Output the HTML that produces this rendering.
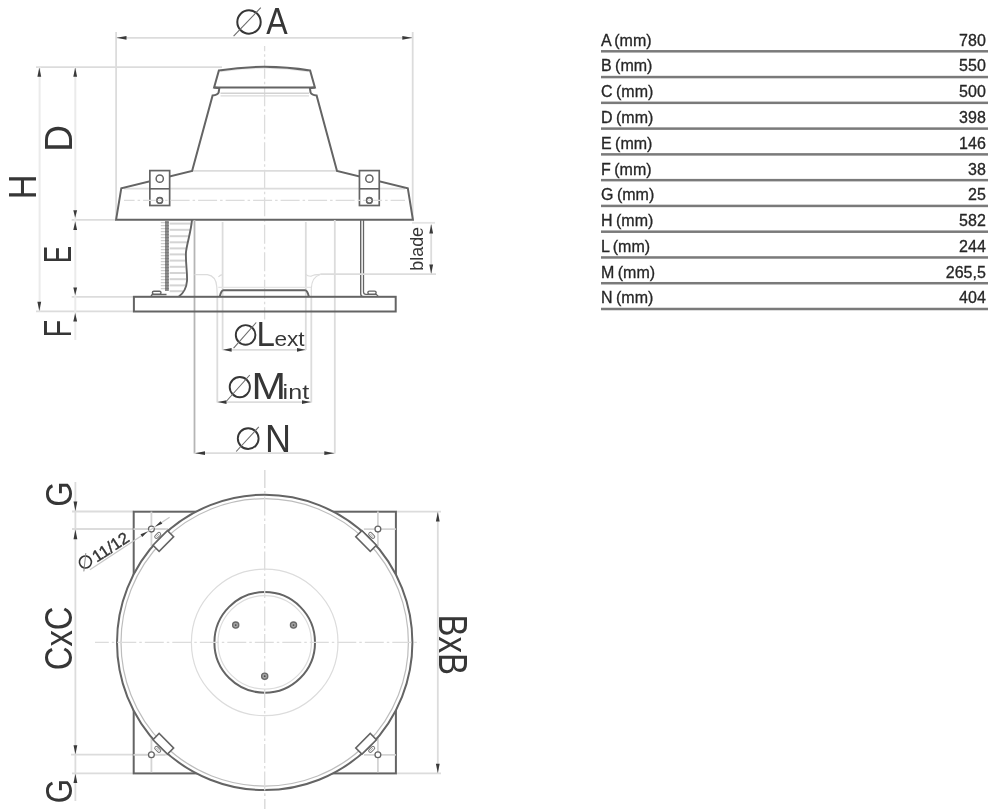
<!DOCTYPE html>
<html><head><meta charset="utf-8"><style>
html,body{margin:0;padding:0;background:#fff;}
svg{display:block;will-change:transform;}
</style></head><body>
<svg width="994" height="809" viewBox="0 0 994 809">
<rect width="994" height="809" fill="#fff"/>
<line x1="116.1" y1="32" x2="116.1" y2="219.7" stroke="#dcdcdc" stroke-width="1.8" />
<line x1="412.7" y1="32" x2="412.7" y2="219.7" stroke="#dcdcdc" stroke-width="1.8" />
<line x1="36" y1="67.2" x2="222" y2="67.2" stroke="#dcdcdc" stroke-width="1.8" />
<line x1="71.7" y1="219.8" x2="116" y2="219.8" stroke="#dcdcdc" stroke-width="1.8" />
<line x1="71.7" y1="296.9" x2="134" y2="296.9" stroke="#dcdcdc" stroke-width="1.8" />
<line x1="36" y1="311.4" x2="134" y2="311.4" stroke="#dcdcdc" stroke-width="1.8" />
<line x1="39.6" y1="67" x2="39.6" y2="311.4" stroke="#ebebeb" stroke-width="2" />
<line x1="75.3" y1="67" x2="75.3" y2="340" stroke="#ebebeb" stroke-width="2" />
<path d="M39.30,67.50 L41.20,76.70 L37.40,76.70 Z" fill="#3a3a3a"/>
<path d="M39.30,311.00 L37.40,301.80 L41.20,301.80 Z" fill="#3a3a3a"/>
<path d="M75.20,67.50 L77.10,76.70 L73.30,76.70 Z" fill="#3a3a3a"/>
<path d="M75.20,217.80 L73.30,210.20 L77.10,210.20 Z" fill="#3a3a3a"/>
<path d="M75.20,221.40 L77.10,230.00 L73.30,230.00 Z" fill="#3a3a3a"/>
<path d="M75.20,295.30 L73.30,287.60 L77.10,287.60 Z" fill="#3a3a3a"/>
<path d="M75.20,313.00 L77.10,321.60 L73.30,321.60 Z" fill="#3a3a3a"/>
<line x1="116.1" y1="37.8" x2="412.7" y2="37.8" stroke="#dcdcdc" stroke-width="1.8" />
<path d="M116.50,37.80 L126.50,35.90 L126.50,39.70 Z" fill="#3a3a3a"/>
<path d="M412.30,37.80 L402.30,39.70 L402.30,35.90 Z" fill="#3a3a3a"/>
<line x1="264.6" y1="46" x2="264.6" y2="319.5" stroke="#dcdcdc" stroke-width="1.3" stroke-dasharray="19,3,2.5,3" stroke-dashoffset="13.7"/>
<path d="M221,71.6 A282.8,282.8 0 0 1 308,71.6" stroke="#e6e6e6" stroke-width="1" fill="none" />
<line x1="220.5" y1="93.3" x2="309" y2="93.3" stroke="#d2d2d2" stroke-width="1.4" />
<line x1="220.5" y1="95.9" x2="309" y2="95.9" stroke="#dadada" stroke-width="1.4" />
<line x1="192.1" y1="170.9" x2="337" y2="170.9" stroke="#dcdcdc" stroke-width="1.8" />
<line x1="124" y1="188.6" x2="405" y2="188.6" stroke="#dcdcdc" stroke-width="1.8" />
<path d="M218.9,70.5 A282.8,282.8 0 0 1 310.1,70.5 L314.9,87.4 L214.1,87.4 Z" stroke="#646464" stroke-width="2.0" fill="none" />
<path d="M214.1,87.4 L219.3,88.2 L218.6,92.6 Q217.6,94.9 212.6,95.4 L192.1,170.9 L121.3,188.2 L116.1,219.7 L412.9,219.7 L407.8,188.2 L337,170.9 L316.6,95.4 Q311.6,94.9 310.6,92.6 L309.9,88.2 L314.9,87.4" stroke="#646464" stroke-width="2.0" fill="none" />
<rect x="149.85" y="170.6" width="19.8" height="34.9" fill="#fff" stroke="#646464" stroke-width="1.7"/>
<line x1="149.85" y1="188.8" x2="169.65" y2="188.8" stroke="#646464" stroke-width="1.6" />
<circle cx="159.75" cy="178.7" r="3.6" fill="none" stroke="#646464" stroke-width="1.5"/>
<circle cx="159.75" cy="200.4" r="2.8" fill="none" stroke="#646464" stroke-width="1.3"/>
<rect x="359.45000000000005" y="170.6" width="19.8" height="34.9" fill="#fff" stroke="#646464" stroke-width="1.7"/>
<line x1="359.45000000000005" y1="188.8" x2="379.25" y2="188.8" stroke="#646464" stroke-width="1.6" />
<circle cx="369.35" cy="178.7" r="3.6" fill="none" stroke="#646464" stroke-width="1.5"/>
<circle cx="369.35" cy="200.4" r="2.8" fill="none" stroke="#646464" stroke-width="1.3"/>
<line x1="124" y1="200.4" x2="405" y2="200.4" stroke="#dcdcdc" stroke-width="1.3" stroke-dasharray="19,3,2.5,3" stroke-dashoffset="8.4"/>
<circle cx="159.75" cy="200.4" r="2.9" fill="none" stroke="#646464" stroke-width="1.3"/>
<circle cx="369.35" cy="200.4" r="2.9" fill="none" stroke="#646464" stroke-width="1.3"/>
<line x1="194.5" y1="220" x2="194.5" y2="453.5" stroke="#b5b5b5" stroke-width="1.8" />
<line x1="334.8" y1="220" x2="334.8" y2="453.5" stroke="#dcdcdc" stroke-width="1.8" />
<line x1="222.6" y1="222" x2="222.6" y2="350" stroke="#dcdcdc" stroke-width="1.8" />
<line x1="305.8" y1="222" x2="305.8" y2="350" stroke="#dcdcdc" stroke-width="1.8" />
<line x1="217.3" y1="296" x2="217.3" y2="402.5" stroke="#dcdcdc" stroke-width="1.8" />
<line x1="311.3" y1="296" x2="311.3" y2="402.5" stroke="#dcdcdc" stroke-width="1.8" />
<line x1="169.6" y1="223.6" x2="190.74499999999998" y2="223.6" stroke="#d4d4d4" stroke-width="2" />
<line x1="169.6" y1="229.8" x2="190.02166666666665" y2="229.8" stroke="#d4d4d4" stroke-width="2" />
<line x1="169.6" y1="236.2" x2="188.74910179640716" y2="236.2" stroke="#d4d4d4" stroke-width="2" />
<line x1="169.6" y1="242.3" x2="187.32455089820357" y2="242.3" stroke="#d4d4d4" stroke-width="2" />
<line x1="169.6" y1="248.4" x2="185.89999999999998" y2="248.4" stroke="#d4d4d4" stroke-width="2" />
<line x1="169.6" y1="254.4" x2="185.18947368421053" y2="254.4" stroke="#d4d4d4" stroke-width="2" />
<line x1="169.6" y1="260.6" x2="185.07666666666665" y2="260.6" stroke="#d4d4d4" stroke-width="2" />
<line x1="169.6" y1="266.8" x2="185.27999999999997" y2="266.8" stroke="#d4d4d4" stroke-width="2" />
<line x1="169.6" y1="273.0" x2="185.658064516129" y2="273.0" stroke="#d4d4d4" stroke-width="2" />
<line x1="169.6" y1="279.2" x2="186.19139784946236" y2="279.2" stroke="#d4d4d4" stroke-width="2" />
<line x1="169.6" y1="285.4" x2="185.29324324324324" y2="285.4" stroke="#d4d4d4" stroke-width="2" />
<line x1="169.6" y1="291.2" x2="183.01111111111112" y2="291.2" stroke="#d4d4d4" stroke-width="2" />
<line x1="160.8" y1="222.6" x2="165" y2="222.6" stroke="#cfcfcf" stroke-width="1.3" />
<line x1="160.8" y1="225.6" x2="165" y2="225.6" stroke="#cfcfcf" stroke-width="1.3" />
<line x1="160.8" y1="228.6" x2="165" y2="228.6" stroke="#cfcfcf" stroke-width="1.3" />
<line x1="160.8" y1="231.6" x2="165" y2="231.6" stroke="#cfcfcf" stroke-width="1.3" />
<line x1="160.8" y1="234.6" x2="165" y2="234.6" stroke="#cfcfcf" stroke-width="1.3" />
<line x1="160.8" y1="237.6" x2="165" y2="237.6" stroke="#cfcfcf" stroke-width="1.3" />
<line x1="160.8" y1="240.6" x2="165" y2="240.6" stroke="#cfcfcf" stroke-width="1.3" />
<line x1="160.8" y1="243.6" x2="165" y2="243.6" stroke="#cfcfcf" stroke-width="1.3" />
<line x1="160.8" y1="246.6" x2="165" y2="246.6" stroke="#cfcfcf" stroke-width="1.3" />
<line x1="160.8" y1="249.6" x2="165" y2="249.6" stroke="#cfcfcf" stroke-width="1.3" />
<line x1="160.8" y1="252.6" x2="165" y2="252.6" stroke="#cfcfcf" stroke-width="1.3" />
<line x1="160.8" y1="255.6" x2="165" y2="255.6" stroke="#cfcfcf" stroke-width="1.3" />
<line x1="160.8" y1="258.6" x2="165" y2="258.6" stroke="#cfcfcf" stroke-width="1.3" />
<line x1="160.8" y1="261.6" x2="165" y2="261.6" stroke="#cfcfcf" stroke-width="1.3" />
<line x1="160.8" y1="264.6" x2="165" y2="264.6" stroke="#cfcfcf" stroke-width="1.3" />
<line x1="160.8" y1="267.6" x2="165" y2="267.6" stroke="#cfcfcf" stroke-width="1.3" />
<line x1="160.8" y1="270.6" x2="165" y2="270.6" stroke="#cfcfcf" stroke-width="1.3" />
<line x1="160.8" y1="273.6" x2="165" y2="273.6" stroke="#cfcfcf" stroke-width="1.3" />
<line x1="160.8" y1="276.6" x2="165" y2="276.6" stroke="#cfcfcf" stroke-width="1.3" />
<line x1="160.8" y1="279.6" x2="165" y2="279.6" stroke="#cfcfcf" stroke-width="1.3" />
<line x1="160.8" y1="282.6" x2="165" y2="282.6" stroke="#cfcfcf" stroke-width="1.3" />
<line x1="160.8" y1="285.6" x2="165" y2="285.6" stroke="#cfcfcf" stroke-width="1.3" />
<line x1="160.8" y1="288.6" x2="165" y2="288.6" stroke="#cfcfcf" stroke-width="1.3" />
<rect x="165" y="220.5" width="3.8" height="70.5" fill="#8c8c8c"/>
<rect x="165" y="222" width="3.8" height="1.2" fill="#7a7a7a"/>
<rect x="165" y="225" width="3.8" height="1.2" fill="#7a7a7a"/>
<rect x="165" y="228" width="3.8" height="1.2" fill="#7a7a7a"/>
<rect x="165" y="231" width="3.8" height="1.2" fill="#7a7a7a"/>
<rect x="165" y="234" width="3.8" height="1.2" fill="#7a7a7a"/>
<rect x="165" y="237" width="3.8" height="1.2" fill="#7a7a7a"/>
<rect x="165" y="240" width="3.8" height="1.2" fill="#7a7a7a"/>
<rect x="165" y="243" width="3.8" height="1.2" fill="#7a7a7a"/>
<rect x="165" y="246" width="3.8" height="1.2" fill="#7a7a7a"/>
<rect x="165" y="249" width="3.8" height="1.2" fill="#7a7a7a"/>
<rect x="165" y="252" width="3.8" height="1.2" fill="#7a7a7a"/>
<rect x="165" y="255" width="3.8" height="1.2" fill="#7a7a7a"/>
<rect x="165" y="258" width="3.8" height="1.2" fill="#7a7a7a"/>
<rect x="165" y="261" width="3.8" height="1.2" fill="#7a7a7a"/>
<rect x="165" y="264" width="3.8" height="1.2" fill="#7a7a7a"/>
<rect x="165" y="267" width="3.8" height="1.2" fill="#7a7a7a"/>
<rect x="165" y="270" width="3.8" height="1.2" fill="#7a7a7a"/>
<rect x="165" y="273" width="3.8" height="1.2" fill="#7a7a7a"/>
<rect x="165" y="276" width="3.8" height="1.2" fill="#7a7a7a"/>
<rect x="165" y="279" width="3.8" height="1.2" fill="#7a7a7a"/>
<rect x="165" y="282" width="3.8" height="1.2" fill="#7a7a7a"/>
<rect x="165" y="285" width="3.8" height="1.2" fill="#7a7a7a"/>
<rect x="165" y="288" width="3.8" height="1.2" fill="#7a7a7a"/>
<path d="M192,219.7 C191,232 187,243 186,252 C185.3,262 187.6,273 187,281 C186.4,288 183.2,293.4 178.9,296.6" stroke="#646464" stroke-width="1.9" fill="none" />
<path d="M360.7,220 L360.7,294 Q360.9,296.6 363.5,296.6" stroke="#646464" stroke-width="1.4" fill="none" />
<path d="M363.5,220 L363.5,292 Q363.6,294.4 366,294.4 L376.3,294.4 L378.5,296.6" stroke="#646464" stroke-width="1.3" fill="none" />
<path d="M150.9,296.6 L152.2,294.4 L166.5,294.4" stroke="#646464" stroke-width="1.5" fill="none" />
<rect x="152.4" y="291.2" width="8.6" height="3.1" rx="1.5" fill="#fff" stroke="#646464" stroke-width="1.4"/>
<rect x="367.9" y="291.1" width="8.2" height="3.2" rx="1.5" fill="#fff" stroke="#646464" stroke-width="1.4"/>
<path d="M194.5,274.7 L207.3,274.7 Q216.2,276 216.8,287 L217.3,296.4" stroke="#dcdcdc" stroke-width="1.2" fill="none" />
<path d="M218.4,277 Q220,275 222.6,274.6" stroke="#dcdcdc" stroke-width="1.2" fill="none" />
<path d="M305.8,274.3 Q308,276.5 311,276.2 Q314,274.5 320.3,274.3" stroke="#dcdcdc" stroke-width="1.2" fill="none" />
<path d="M320.3,274.5 Q311.5,277 311.3,289 L311.3,296.4" stroke="#dcdcdc" stroke-width="1.2" fill="none" />
<line x1="320.3" y1="274.2" x2="436" y2="274.2" stroke="#dcdcdc" stroke-width="1.8" />
<line x1="412" y1="222.8" x2="435" y2="222.8" stroke="#e4e4e4" stroke-width="1.8" />
<line x1="218.3" y1="287.4" x2="311.1" y2="287.4" stroke="#e4e4e4" stroke-width="1.2" />
<rect x="133.9" y="296.8" width="261.8" height="14.7" fill="none" stroke="#646464" stroke-width="2"/>
<path d="M219.8,296.5 Q221.2,290.2 223.5,290.2 L305,290.2 Q307.4,290.2 308.8,296.5" stroke="#646464" stroke-width="2.0" fill="none" />
<line x1="431.2" y1="224.5" x2="431.2" y2="273.4" stroke="#dcdcdc" stroke-width="1.8" />
<path d="M431.20,224.20 L433.10,233.40 L429.30,233.40 Z" fill="#3a3a3a"/>
<path d="M431.20,273.80 L429.30,264.50 L433.10,264.50 Z" fill="#3a3a3a"/>
<line x1="222.6" y1="349.8" x2="305.8" y2="349.8" stroke="#dcdcdc" stroke-width="1.8" />
<path d="M223.00,349.80 L231.60,347.90 L231.60,351.70 Z" fill="#3a3a3a"/>
<path d="M305.40,349.80 L297.00,351.70 L297.00,347.90 Z" fill="#3a3a3a"/>
<line x1="217.3" y1="402.1" x2="311.3" y2="402.1" stroke="#dcdcdc" stroke-width="1.8" />
<path d="M217.70,402.10 L226.50,400.20 L226.50,404.00 Z" fill="#3a3a3a"/>
<path d="M310.90,402.10 L302.00,404.00 L302.00,400.20 Z" fill="#3a3a3a"/>
<line x1="194.6" y1="453.2" x2="334.8" y2="453.2" stroke="#dcdcdc" stroke-width="1.8" />
<path d="M195.00,453.20 L205.00,451.30 L205.00,455.10 Z" fill="#3a3a3a"/>
<path d="M334.40,453.20 L324.30,455.10 L324.30,451.30 Z" fill="#3a3a3a"/>
<circle cx="249" cy="22" r="11.7" stroke="#363636" stroke-width="2" fill="none"/>
<line x1="233.6" y1="36.2" x2="260.8" y2="7.7" stroke="#6a6a6a" stroke-width="1.1" />
<text x="0" y="0" font-size="100" font-family="'Liberation Sans', sans-serif" font-weight="normal" fill="#363636" transform="matrix(0.3212,0.0000,0.0000,0.3779,266.1373,34.2000)">A</text>
<text x="0" y="0" font-size="100" font-family="'Liberation Sans', sans-serif" font-weight="normal" fill="#363636" transform="matrix(0.0000,-0.3714,0.3881,0.0000,71.7000,151.7470)">D</text>
<text x="0" y="0" font-size="100" font-family="'Liberation Sans', sans-serif" font-weight="normal" fill="#363636" transform="matrix(0.0000,-0.3437,0.3852,0.0000,35.8000,199.2196)">H</text>
<text x="0" y="0" font-size="100" font-family="'Liberation Sans', sans-serif" font-weight="normal" fill="#363636" transform="matrix(0.0000,-0.2546,0.3837,0.0000,71.4000,263.0886)">E</text>
<text x="0" y="0" font-size="100" font-family="'Liberation Sans', sans-serif" font-weight="normal" fill="#363636" transform="matrix(0.0000,-0.2905,0.3837,0.0000,71.4000,337.5832)">F</text>
<text x="0" y="0" font-size="100" font-family="'Liberation Sans', sans-serif" font-weight="normal" fill="#363636" transform="matrix(0.0000,-0.1784,0.1825,0.0000,423.2218,270.6496)">blade</text>
<circle cx="245.6" cy="334.9" r="9.8" stroke="#363636" stroke-width="1.9" fill="none"/>
<line x1="233.6" y1="348.2" x2="256.2" y2="322.5" stroke="#6a6a6a" stroke-width="1.1" />
<text x="0" y="0" font-size="100" font-family="'Liberation Sans', sans-serif" font-weight="normal" fill="#363636" transform="matrix(0.3311,0.0000,0.0000,0.3518,256.5837,345.7000)">L</text>
<text x="0" y="0" font-size="100" font-family="'Liberation Sans', sans-serif" font-weight="normal" fill="#363636" transform="matrix(0.2266,0.0000,0.0000,0.2103,274.4374,345.6946)">ext</text>
<circle cx="239.8" cy="387.1" r="10.1" stroke="#363636" stroke-width="1.9" fill="none"/>
<line x1="226.6" y1="401" x2="249.8" y2="375" stroke="#6a6a6a" stroke-width="1.1" />
<text x="0" y="0" font-size="100" font-family="'Liberation Sans', sans-serif" font-weight="normal" fill="#363636" transform="matrix(0.4141,0.0000,0.0000,0.3692,251.4032,398.7000)">M</text>
<text x="0" y="0" font-size="100" font-family="'Liberation Sans', sans-serif" font-weight="normal" fill="#363636" transform="matrix(0.2515,0.0000,0.0000,0.1980,282.6173,398.7453)">int</text>
<circle cx="248.2" cy="438.6" r="10.4" stroke="#363636" stroke-width="1.9" fill="none"/>
<line x1="236.2" y1="451.5" x2="258.8" y2="426.9" stroke="#6a6a6a" stroke-width="1.1" />
<text x="0" y="0" font-size="100" font-family="'Liberation Sans', sans-serif" font-weight="normal" fill="#363636" transform="matrix(0.3598,0.0000,0.0000,0.3910,264.9483,452.2000)">N</text>
<line x1="264.7" y1="470" x2="264.7" y2="809" stroke="#dcdcdc" stroke-width="1.3" stroke-dasharray="19,3,2.5,3" stroke-dashoffset="0.9"/>
<line x1="72" y1="511.5" x2="134" y2="511.5" stroke="#dcdcdc" stroke-width="1.8" />
<line x1="72" y1="529" x2="168" y2="529" stroke="#dcdcdc" stroke-width="1.8" />
<line x1="71" y1="754.7" x2="168" y2="754.7" stroke="#dcdcdc" stroke-width="1.8" />
<line x1="72" y1="773.3" x2="134" y2="773.3" stroke="#dcdcdc" stroke-width="1.8" />
<line x1="396" y1="511.7" x2="441" y2="511.7" stroke="#dcdcdc" stroke-width="1.8" />
<line x1="396" y1="773.4" x2="441" y2="773.4" stroke="#dcdcdc" stroke-width="1.8" />
<line x1="75.4" y1="482" x2="75.4" y2="801" stroke="#dcdcdc" stroke-width="1.8" />
<line x1="437.8" y1="511.7" x2="437.8" y2="773.4" stroke="#dcdcdc" stroke-width="1.8" />
<path d="M75.40,511.00 L73.50,501.60 L77.30,501.60 Z" fill="#3a3a3a"/>
<path d="M75.40,529.50 L77.30,539.20 L73.50,539.20 Z" fill="#3a3a3a"/>
<path d="M75.40,754.20 L73.50,745.30 L77.30,745.30 Z" fill="#3a3a3a"/>
<path d="M75.40,773.70 L77.30,782.90 L73.50,782.90 Z" fill="#3a3a3a"/>
<path d="M437.80,512.10 L439.70,521.40 L435.90,521.40 Z" fill="#3a3a3a"/>
<path d="M437.80,773.00 L435.90,763.70 L439.70,763.70 Z" fill="#3a3a3a"/>
<rect x="133.7" y="511.7" width="262.2" height="261.7" fill="none" stroke="#646464" stroke-width="2"/>
<line x1="151.4" y1="511.6" x2="151.4" y2="546.1" stroke="#d4d4d4" stroke-width="1.8" />
<line x1="165.4" y1="529.1" x2="133.4" y2="529.1" stroke="#d4d4d4" stroke-width="1.8" />
<circle cx="151.4" cy="529.1" r="2.9" fill="#fff" stroke="#646464" stroke-width="1.3"/>
<line x1="377.9" y1="511.6" x2="377.9" y2="546.1" stroke="#d4d4d4" stroke-width="1.8" />
<line x1="363.9" y1="529.1" x2="395.9" y2="529.1" stroke="#d4d4d4" stroke-width="1.8" />
<circle cx="377.9" cy="529.1" r="2.9" fill="#fff" stroke="#646464" stroke-width="1.3"/>
<line x1="151.4" y1="772.3" x2="151.4" y2="737.8" stroke="#d4d4d4" stroke-width="1.8" />
<line x1="165.4" y1="754.8" x2="133.4" y2="754.8" stroke="#d4d4d4" stroke-width="1.8" />
<circle cx="151.4" cy="754.8" r="2.9" fill="#fff" stroke="#646464" stroke-width="1.3"/>
<line x1="377.9" y1="772.3" x2="377.9" y2="737.8" stroke="#d4d4d4" stroke-width="1.8" />
<line x1="363.9" y1="754.8" x2="395.9" y2="754.8" stroke="#d4d4d4" stroke-width="1.8" />
<circle cx="377.9" cy="754.8" r="2.9" fill="#fff" stroke="#646464" stroke-width="1.3"/>
<path d="" />
<circle cx="264.7" cy="642.4" r="147.7" fill="#fff" stroke="#646464" stroke-width="2"/>
<circle cx="264.7" cy="642.4" r="143.7" fill="none" stroke="#bdbdbd" stroke-width="1.2"/>
<circle cx="264.7" cy="642.4" r="73.3" fill="none" stroke="#dcdcdc" stroke-width="1.2"/>
<circle cx="264.7" cy="642.4" r="50.3" fill="none" stroke="#646464" stroke-width="2"/>
<circle cx="264.7" cy="642.4" r="46.7" fill="none" stroke="#dcdcdc" stroke-width="1.2"/>
<line x1="95" y1="642.4" x2="420" y2="642.4" stroke="#dcdcdc" stroke-width="1.3" stroke-dasharray="19,3,2.5,3" stroke-dashoffset="5.2"/>
<line x1="264.7" y1="470" x2="264.7" y2="809" stroke="#dcdcdc" stroke-width="1.3" stroke-dasharray="19,3,2.5,3" stroke-dashoffset="0.9"/>
<circle cx="235.7" cy="625.1" r="3.1" fill="#a4a4a4" stroke="#6a6a6a" stroke-width="1.3"/>
<circle cx="235.7" cy="625.1" r="0.9" fill="#4a4a4a"/>
<circle cx="293.5" cy="625.1" r="3.1" fill="#a4a4a4" stroke="#6a6a6a" stroke-width="1.3"/>
<circle cx="293.5" cy="625.1" r="0.9" fill="#4a4a4a"/>
<circle cx="264.7" cy="676.2" r="3.1" fill="#a4a4a4" stroke="#6a6a6a" stroke-width="1.3"/>
<circle cx="264.7" cy="676.2" r="0.9" fill="#4a4a4a"/>
<g transform="translate(366.10,541.00) rotate(45)"><rect x="-10.25" y="-4.35" width="20.5" height="8.7" fill="#fff" stroke="#646464" stroke-width="1.6"/><rect x="-3.5" y="-9.6" width="7" height="3.4" rx="1.6" fill="#fff" stroke="#777" stroke-width="1"/><line x1="-2" y1="-7.9" x2="2" y2="-7.9" stroke="#999" stroke-width="0.8"/></g>
<g transform="translate(163.30,541.00) rotate(-45)"><rect x="-10.25" y="-4.35" width="20.5" height="8.7" fill="#fff" stroke="#646464" stroke-width="1.6"/><rect x="-3.5" y="-9.6" width="7" height="3.4" rx="1.6" fill="#fff" stroke="#777" stroke-width="1"/><line x1="-2" y1="-7.9" x2="2" y2="-7.9" stroke="#999" stroke-width="0.8"/></g>
<g transform="translate(163.30,743.80) rotate(-135)"><rect x="-10.25" y="-4.35" width="20.5" height="8.7" fill="#fff" stroke="#646464" stroke-width="1.6"/><rect x="-3.5" y="-9.6" width="7" height="3.4" rx="1.6" fill="#fff" stroke="#777" stroke-width="1"/><line x1="-2" y1="-7.9" x2="2" y2="-7.9" stroke="#999" stroke-width="0.8"/></g>
<g transform="translate(366.10,743.80) rotate(-225)"><rect x="-10.25" y="-4.35" width="20.5" height="8.7" fill="#fff" stroke="#646464" stroke-width="1.6"/><rect x="-3.5" y="-9.6" width="7" height="3.4" rx="1.6" fill="#fff" stroke="#777" stroke-width="1"/><line x1="-2" y1="-7.9" x2="2" y2="-7.9" stroke="#999" stroke-width="0.8"/></g>
<line x1="89.9" y1="569.7" x2="169.6" y2="517.2" stroke="#c8c8c8" stroke-width="1.2" />
<path d="M147.64,531.58 L142.26,537.04 L140.50,534.37 Z" fill="#3a3a3a"/>
<path d="M155.16,526.62 L160.54,521.16 L162.30,523.83 Z" fill="#3a3a3a"/>
<text x="0" y="0" font-size="100" font-family="'Liberation Sans', sans-serif" font-weight="normal" fill="#363636" transform="matrix(0.0000,-0.3263,0.3630,0.0000,71.5455,506.6409)">G</text>
<text x="0" y="0" font-size="100" font-family="'Liberation Sans', sans-serif" font-weight="normal" fill="#363636" transform="matrix(0.0000,-0.3282,0.3842,0.0000,71.8248,670.2667)">CxC</text>
<text x="0" y="0" font-size="100" font-family="'Liberation Sans', sans-serif" font-weight="normal" fill="#363636" transform="matrix(0.0000,-0.3140,0.3630,0.0000,71.5455,803.2793)">G</text>
<text x="0" y="0" font-size="100" font-family="'Liberation Sans', sans-serif" font-weight="normal" fill="#363636" transform="matrix(0.0000,0.3302,-0.4012,0.0000,438.8000,614.4917)">BxB</text>
<g transform="translate(89.9,569.7) rotate(-33.37)"><circle cx="0.5" cy="-8.9" r="6" stroke="#363636" stroke-width="1.6" fill="none"/><line x1="-6" y1="-1.9" x2="5.7" y2="-16.1" stroke="#888" stroke-width="0.9"/><text x="0" y="0" font-size="100" font-family="'Liberation Sans', sans-serif" fill="#363636" stroke="#363636" stroke-width="2.5" transform="matrix(0.1667,0,0,0.1634,9.530,-1.960)">11/12</text></g>
<rect x="601" y="50.05" width="387" height="2.5" fill="#7a7a7a"/>
<text x="601" y="45.70" font-size="16" font-family="'Liberation Sans', sans-serif" fill="#262626" stroke="#262626" stroke-width="0.3" word-spacing="-1">A (mm)</text>
<text x="985.8" y="45.70" font-size="16" font-family="'Liberation Sans', sans-serif" fill="#262626" stroke="#262626" stroke-width="0.3" text-anchor="end">780</text>
<rect x="601" y="75.82" width="387" height="2.5" fill="#7a7a7a"/>
<text x="601" y="71.47" font-size="16" font-family="'Liberation Sans', sans-serif" fill="#262626" stroke="#262626" stroke-width="0.3" word-spacing="-1">B (mm)</text>
<text x="985.8" y="71.47" font-size="16" font-family="'Liberation Sans', sans-serif" fill="#262626" stroke="#262626" stroke-width="0.3" text-anchor="end">550</text>
<rect x="601" y="101.59" width="387" height="2.5" fill="#7a7a7a"/>
<text x="601" y="97.24" font-size="16" font-family="'Liberation Sans', sans-serif" fill="#262626" stroke="#262626" stroke-width="0.3" word-spacing="-1">C (mm)</text>
<text x="985.8" y="97.24" font-size="16" font-family="'Liberation Sans', sans-serif" fill="#262626" stroke="#262626" stroke-width="0.3" text-anchor="end">500</text>
<rect x="601" y="127.36" width="387" height="2.5" fill="#7a7a7a"/>
<text x="601" y="123.01" font-size="16" font-family="'Liberation Sans', sans-serif" fill="#262626" stroke="#262626" stroke-width="0.3" word-spacing="-1">D (mm)</text>
<text x="985.8" y="123.01" font-size="16" font-family="'Liberation Sans', sans-serif" fill="#262626" stroke="#262626" stroke-width="0.3" text-anchor="end">398</text>
<rect x="601" y="153.13" width="387" height="2.5" fill="#7a7a7a"/>
<text x="601" y="148.78" font-size="16" font-family="'Liberation Sans', sans-serif" fill="#262626" stroke="#262626" stroke-width="0.3" word-spacing="-1">E (mm)</text>
<text x="985.8" y="148.78" font-size="16" font-family="'Liberation Sans', sans-serif" fill="#262626" stroke="#262626" stroke-width="0.3" text-anchor="end">146</text>
<rect x="601" y="178.90" width="387" height="2.5" fill="#7a7a7a"/>
<text x="601" y="174.55" font-size="16" font-family="'Liberation Sans', sans-serif" fill="#262626" stroke="#262626" stroke-width="0.3" word-spacing="-1">F (mm)</text>
<text x="985.8" y="174.55" font-size="16" font-family="'Liberation Sans', sans-serif" fill="#262626" stroke="#262626" stroke-width="0.3" text-anchor="end">38</text>
<rect x="601" y="204.67" width="387" height="2.5" fill="#7a7a7a"/>
<text x="601" y="200.32" font-size="16" font-family="'Liberation Sans', sans-serif" fill="#262626" stroke="#262626" stroke-width="0.3" word-spacing="-1">G (mm)</text>
<text x="985.8" y="200.32" font-size="16" font-family="'Liberation Sans', sans-serif" fill="#262626" stroke="#262626" stroke-width="0.3" text-anchor="end">25</text>
<rect x="601" y="230.44" width="387" height="2.5" fill="#7a7a7a"/>
<text x="601" y="226.09" font-size="16" font-family="'Liberation Sans', sans-serif" fill="#262626" stroke="#262626" stroke-width="0.3" word-spacing="-1">H (mm)</text>
<text x="985.8" y="226.09" font-size="16" font-family="'Liberation Sans', sans-serif" fill="#262626" stroke="#262626" stroke-width="0.3" text-anchor="end">582</text>
<rect x="601" y="256.21" width="387" height="2.5" fill="#7a7a7a"/>
<text x="601" y="251.86" font-size="16" font-family="'Liberation Sans', sans-serif" fill="#262626" stroke="#262626" stroke-width="0.3" word-spacing="-1">L (mm)</text>
<text x="985.8" y="251.86" font-size="16" font-family="'Liberation Sans', sans-serif" fill="#262626" stroke="#262626" stroke-width="0.3" text-anchor="end">244</text>
<rect x="601" y="281.98" width="387" height="2.5" fill="#7a7a7a"/>
<text x="601" y="277.63" font-size="16" font-family="'Liberation Sans', sans-serif" fill="#262626" stroke="#262626" stroke-width="0.3" word-spacing="-1">M (mm)</text>
<text x="985.8" y="277.63" font-size="16" font-family="'Liberation Sans', sans-serif" fill="#262626" stroke="#262626" stroke-width="0.3" text-anchor="end">265,5</text>
<rect x="601" y="307.75" width="387" height="2.5" fill="#7a7a7a"/>
<text x="601" y="303.40" font-size="16" font-family="'Liberation Sans', sans-serif" fill="#262626" stroke="#262626" stroke-width="0.3" word-spacing="-1">N (mm)</text>
<text x="985.8" y="303.40" font-size="16" font-family="'Liberation Sans', sans-serif" fill="#262626" stroke="#262626" stroke-width="0.3" text-anchor="end">404</text>
</svg>
</body></html>
